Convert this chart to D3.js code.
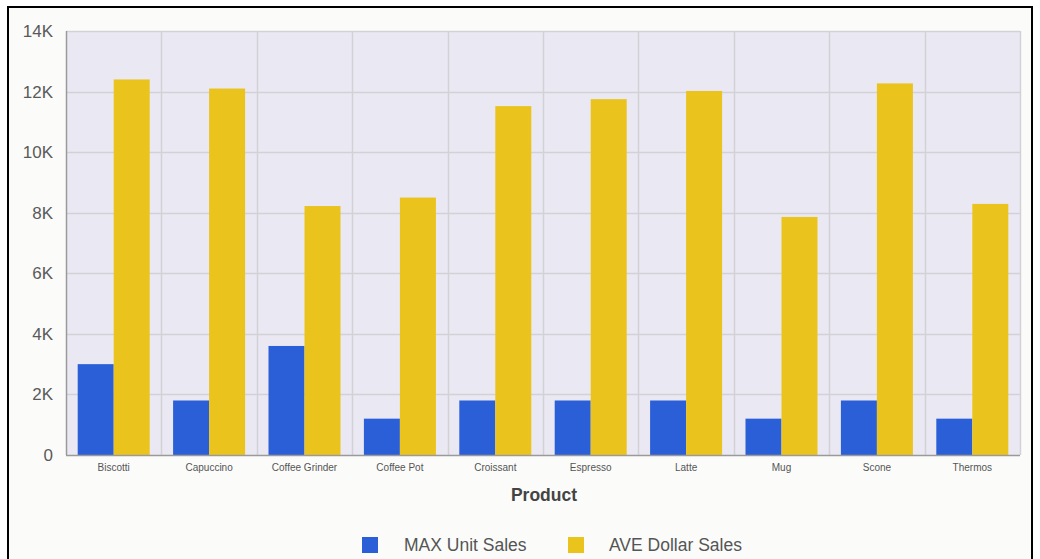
<!DOCTYPE html>
<html>
<head>
<meta charset="utf-8">
<script src="https://cdn.jsdelivr.net/npm/d3@7"></script>
<style>
  html, body { margin: 0; padding: 0; background: #ffffff; }
  svg { display: block; }
</style>
</head>
<body>
<svg id="chart" width="1040" height="559"></svg>
<script>
// Products and the two measures plotted for each
const products = ["Biscotti", "Capuccino", "Coffee Grinder", "Coffee Pot", "Croissant",
                  "Espresso", "Latte", "Mug", "Scone", "Thermos"];
const maxUnitSales = [3000, 1800, 3600, 1200, 1800, 1800, 1800, 1200, 1800, 1200];
const aveDollarSales = [12400, 12100, 8220, 8500, 11520, 11750, 12020, 7860, 12270, 8290];
const seriesNames = ["MAX Unit Sales", "AVE Dollar Sales"];
const seriesColors = ["#2b5fd8", "#ebc31d"];
const yTicks = [0, 2000, 4000, 6000, 8000, 10000, 12000, 14000];

const svg = d3.select("#chart");
const font = "'Liberation Sans', Arial, sans-serif";

// Outer frame
svg.append("rect")
  .attr("x", 8).attr("y", 7).attr("width", 1024).attr("height", 560)
  .attr("fill", "#fbfcfa").attr("stroke", "#000").attr("stroke-width", 2);

const plot = { left: 66, top: 31, right: 1020, bottom: 455 };

const x0 = d3.scaleBand().domain(products).range([plot.left, plot.right]).paddingInner(0).paddingOuter(0);
const x1 = d3.scaleBand().domain(seriesNames).range([0, x0.bandwidth()]).paddingInner(0).paddingOuter(0.325);
const y = d3.scaleLinear().domain([0, 14000]).range([plot.bottom, plot.top]);

// Plot background
svg.append("rect")
  .attr("x", plot.left).attr("y", plot.top)
  .attr("width", plot.right - plot.left).attr("height", plot.bottom - plot.top)
  .attr("fill", "#eae8f3");

// Horizontal grid
svg.append("g").selectAll("line").data(yTicks.filter(d => d > 0)).join("line")
  .attr("x1", plot.left).attr("x2", plot.right)
  .attr("y1", d => Math.round(y(d)) + 0.5).attr("y2", d => Math.round(y(d)) + 0.5)
  .attr("stroke", "#d2d2d6").attr("stroke-width", 1.5);

// Vertical grid at category boundaries
const bounds = products.map(p => x0(p)).concat([plot.right]);
svg.append("g").selectAll("line").data(bounds.slice(1)).join("line")
  .attr("x1", d => Math.round(d) + 0.5).attr("x2", d => Math.round(d) + 0.5)
  .attr("y1", plot.top).attr("y2", plot.bottom)
  .attr("stroke", "#d2d2d6").attr("stroke-width", 1.5);

// Bars
const series = [maxUnitSales, aveDollarSales];
const groups = svg.append("g").selectAll("g").data(products).join("g")
  .attr("transform", d => `translate(${x0(d)},0)`);
groups.selectAll("rect")
  .data((p, i) => series.map((s, k) => ({ name: seriesNames[k], value: s[i], color: seriesColors[k] })))
  .join("rect")
  .attr("x", d => x1(d.name))
  .attr("width", x1.bandwidth())
  .attr("y", d => y(d.value))
  .attr("height", d => y(0) - y(d.value))
  .attr("fill", d => d.color);

// Axis lines
svg.append("line")
  .attr("x1", plot.left + 0.5).attr("x2", plot.left + 0.5)
  .attr("y1", plot.top).attr("y2", plot.bottom)
  .attr("stroke", "#9a9a9a").attr("stroke-width", 1.5);
svg.append("line")
  .attr("x1", plot.left).attr("x2", plot.right)
  .attr("y1", plot.bottom + 0.5).attr("y2", plot.bottom + 0.5)
  .attr("stroke", "#9a9a9a").attr("stroke-width", 1.5);

// Y axis labels
const yAxis = d3.axisLeft(y).tickValues(yTicks)
  .tickFormat(d => d === 0 ? "0" : (d / 1000) + "K").tickSize(0).tickPadding(13);
const gy = svg.append("g").attr("transform", `translate(${plot.left},0)`).call(yAxis);
gy.select(".domain").remove();
gy.selectAll("text")
  .attr("font-family", font).attr("font-size", 17).attr("fill", "#5a5a5a");

// X axis labels
const xAxis = d3.axisBottom(x0).tickSize(0).tickPadding(9);
const gx = svg.append("g").attr("transform", `translate(0,${plot.bottom})`).call(xAxis);
gx.select(".domain").remove();
gx.selectAll("text")
  .attr("font-family", font).attr("font-size", 10).attr("fill", "#555");

// X axis title
svg.append("text")
  .attr("x", (plot.left + plot.right) / 2 + 1).attr("y", 501)
  .attr("text-anchor", "middle")
  .attr("font-family", font).attr("font-size", 17.5).attr("font-weight", "bold")
  .attr("fill", "#444").text("Product");

// Legend
const legendItems = [
  { name: seriesNames[0], color: seriesColors[0], x: 362, tx: 404 },
  { name: seriesNames[1], color: seriesColors[1], x: 568, tx: 609 }
];
const lg = svg.append("g").selectAll("g").data(legendItems).join("g");
lg.append("rect")
  .attr("x", d => d.x).attr("y", 537).attr("width", 16).attr("height", 16)
  .attr("fill", d => d.color);
lg.append("text")
  .attr("x", d => d.tx).attr("y", 551)
  .attr("font-family", font).attr("font-size", 17.5).attr("fill", "#555")
  .text(d => d.name);
</script>
</body>
</html>
